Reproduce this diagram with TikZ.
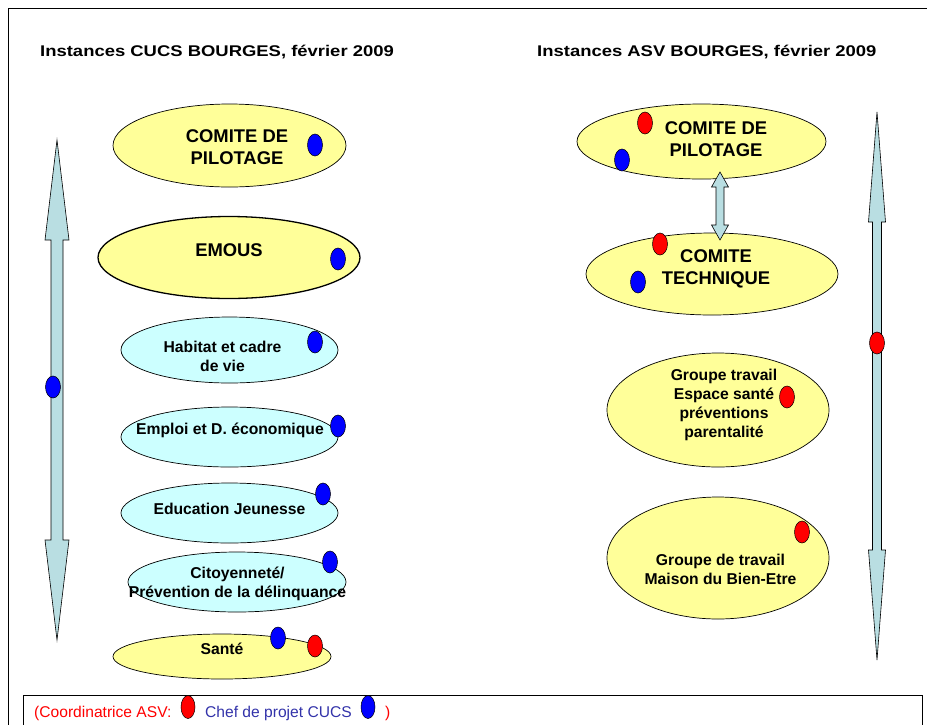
\documentclass[tikz,border=0pt]{standalone}
\usepackage{fontspec}
\usepackage{graphicx}
\setmainfont{Liberation Sans}
\usetikzlibrary{shapes.geometric}

\definecolor{paleyellow}{RGB}{255,255,153}
\definecolor{palecyan}{RGB}{204,255,255}
\definecolor{arrowblue}{RGB}{185,222,226}
\definecolor{legendblue}{RGB}{51,51,170}

% vertical double arrow: x, top tip, bottom tip, half shaft, half head, head length
\newcommand\DblArrowV[6]{%
  \draw[dblarrow] (#1,#2) -- (#1+#5,#2+#6) -- (#1+#4,#2+#6) -- (#1+#4,#3-#6)
    -- (#1+#5,#3-#6) -- (#1,#3) -- (#1-#5,#3-#6) -- (#1-#4,#3-#6)
    -- (#1-#4,#2+#6) -- (#1-#5,#2+#6) -- cycle;}

\begin{document}
\begin{tikzpicture}[x=1pt,y=-1pt,
  blob/.style={ellipse, draw=black, line width=0.7pt, inner sep=0pt},
  yblob/.style={blob, fill=paleyellow},
  cblob/.style={blob, fill=palecyan},
  bigtxt/.style={font=\bfseries\fontsize{18.4}{22}\selectfont, align=center, inner sep=0pt},
  smalltxt/.style={font=\bfseries\fontsize{15.7}{19}\selectfont, align=center, inner sep=0pt},
  titletxt/.style={font=\bfseries\fontsize{15.5}{18}\selectfont, inner sep=0pt, anchor=base west},
  legendtxt/.style={font=\fontsize{15.6}{18}\selectfont, inner sep=0pt, anchor=base west},
  marker/.style={ellipse, draw=black, line width=0.5pt, minimum width=15pt, minimum height=22pt, inner sep=0pt},
  coordasv/.style={marker, fill=red},
  chefcucs/.style={marker, fill=blue},
  dblarrow/.style={draw=black, line width=0.6pt, fill=arrowblue, line join=miter},
]
\useasboundingbox (0,0) rectangle (927,724);
\clip (0,0) rectangle (927,724);
\fill[white] (0,0) rectangle (927,724);

% page frame and legend frame
\draw[line width=0.9pt] (8,730) -- (8,8) -- (935,8);
\draw[line width=0.9pt] (23,730) -- (23,695) -- (922,695) -- (922,730);

% titles
\node[titletxt] (titleL) at (40,56) {\scalebox{1.19}[1]{Instances CUCS BOURGES, février 2009}};
\node[titletxt] (titleR) at (537,56) {\scalebox{1.19}[1]{Instances ASV BOURGES, février 2009}};

% side arrows
\DblArrowV{57}{140}{640}{6}{12}{100}
\DblArrowV{877}{112}{660}{4.5}{8.5}{110}

% CUCS instances
\node[yblob, minimum width=233pt, minimum height=83pt] (pilL) at (229.5,145.5) {};
\node[yblob, line width=1.3pt, minimum width=262pt, minimum height=82pt] (emous) at (229,257.5) {};
\node[cblob, minimum width=217pt, minimum height=66pt] (habitat) at (229.5,350) {};
\node[cblob, minimum width=217pt, minimum height=60pt] (emploi) at (229.5,437) {};
\node[cblob, minimum width=217pt, minimum height=60pt] (educ) at (229.5,513) {};
\node[cblob, minimum width=218pt, minimum height=60pt] (citoy) at (237,582) {};
\node[yblob, minimum width=218pt, minimum height=45pt] (sante) at (222,656.5) {};

\node[bigtxt] (pilLt) at (237,147) {COMITE DE\\PILOTAGE};
\node[bigtxt] (emoust) at (229,250) {EMOUS};
\node[smalltxt] (habitatt) at (222.5,356.5) {Habitat et cadre\\de vie};
\node[smalltxt] (emploit) at (230,430.7) {Emploi et D. économique};
\node[smalltxt] (educt) at (229.5,509) {Education Jeunesse};
\node[smalltxt] (citoyt) at (237.5,584) {Citoyenneté/\\Prévention de la délinquance};
\node[smalltxt] (santet) at (222,649) {Santé};

% ASV instances
\node[yblob, minimum width=249pt, minimum height=75pt] (pilR) at (701.5,141.5) {};
\node[yblob, minimum width=252pt, minimum height=82pt] (tech) at (712,274) {};
\node[yblob, minimum width=222pt, minimum height=114pt] (espace) at (718,410) {};
\node[yblob, minimum width=222pt, minimum height=122pt] (maison) at (718,558) {};

% link between the two ASV committees
\coordinate (linkTop) at (720,172);
\coordinate (linkBot) at (720,240);
\DblArrowV{720}{172}{240}{4}{8.5}{15}

\node[bigtxt] (pilRt) at (716,139.5) {COMITE DE\\PILOTAGE};
\node[bigtxt, text depth=0pt] (techt) at (716,267.5) {COMITE\\TECHNIQUE};
\node[smalltxt] (espacet) at (724,405) {Groupe travail\\Espace santé\\préventions\\parentalité};
\node[smalltxt] (maisont) at (720.5,569.5) {Groupe de travail\\Maison du Bien-Etre};

% markers
\node[chefcucs] (mArrowL) at (53,387) {};
\node[coordasv] (mArrowR) at (877,343) {};
\node[chefcucs] (mPilL) at (315,145) {};
\node[chefcucs] (mEmous) at (338,259) {};
\node[chefcucs] (mHab) at (315,342) {};
\node[chefcucs] (mEmp) at (338,426) {};
\node[chefcucs] (mEdu) at (323,494) {};
\node[chefcucs] (mCit) at (330,562) {};
\node[chefcucs] (mSanB) at (278,638) {};
\node[coordasv] (mSanR) at (315,646) {};
\node[coordasv] (mPilRr) at (645,123) {};
\node[chefcucs] (mPilRb) at (622,160) {};
\node[coordasv] (mTechR) at (660,244) {};
\node[chefcucs] (mTechB) at (638,282) {};
\node[coordasv] (mEsp) at (787,397) {};
\node[coordasv] (mMai) at (802,532) {};

% legend
\node[legendtxt, text=red] (lg1) at (34,717) {(Coordinatrice ASV:};
\node[coordasv, minimum width=14pt, minimum height=23pt] (lgRed) at (188,707) {};
\node[legendtxt, text=legendblue] (lg2) at (205,717) {Chef de projet CUCS};
\node[chefcucs, minimum width=14pt, minimum height=23pt] (lgBlue) at (368,707) {};
\node[legendtxt, text=red] (lg3) at (385,717) {)};
\end{tikzpicture}
\end{document}
